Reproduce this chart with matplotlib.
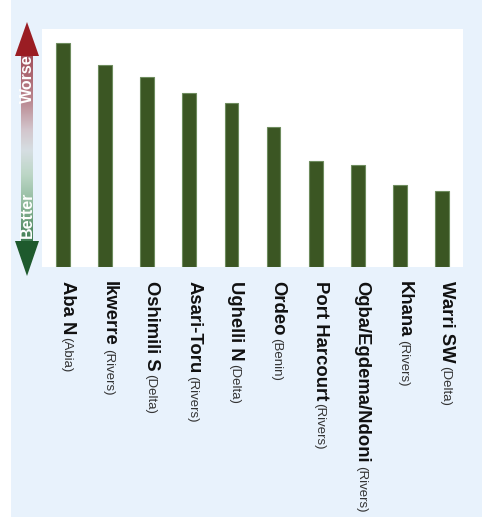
import matplotlib
matplotlib.use("Agg")
import matplotlib.pyplot as plt
import numpy as np
from matplotlib.colors import LinearSegmentedColormap
from matplotlib.patches import Polygon, Rectangle

# ---- data ----
districts = ["Aba N", "Ikwerre", "Oshimili S", "Asari-Toru", "Ughelli N",
             "Ordeo", "Port Harcourt", "Ogba/Egdema/Ndoni", "Khana", "Warri SW"]
states = ["Abia", "Rivers", "Delta", "Rivers", "Delta",
          "Benin", "Rivers", "Rivers", "Rivers", "Delta"]
values = [100, 90.3, 84.8, 77.8, 73.3, 62.6, 47.4, 45.6, 36.7, 34.0]

W, H = 482, 517
fig = plt.figure(figsize=(W / 100, H / 100), dpi=100)
fig.patch.set_facecolor("white")
fig.patches.append(Rectangle((11 / W, 0), 1 - 11 / W, 1, transform=fig.transFigure,
                             facecolor="#e8f2fc", edgecolor="none", zorder=0))

# main axes
ax = fig.add_axes([42 / W, (H - 267) / H, 421 / W, 238 / H], zorder=2)
ax.set_facecolor("white")
x = np.arange(len(values))
ax.bar(x, values, width=0.33, color="#3b5623", edgecolor="#6e8c5e", linewidth=0.8)
ax.set_xlim(-0.5, len(values) - 0.5)
ax.set_ylim(0, 106.4)
for s in ax.spines.values():
    s.set_visible(False)
ax.set_xticks([])
ax.set_yticks([])

trans = ax.get_xaxis_transform()
ylab = (267 - 281) / 238
for i, (d, st) in enumerate(zip(districts, states)):
    t1 = ax.text(i, ylab, d, transform=trans, rotation=-90, rotation_mode="anchor",
                 ha="left", va="baseline", fontsize=13.3, fontweight="bold",
                 family=["Liberation Sans", "DejaVu Sans"], color="#111111", clip_on=False)
    ax.annotate("(" + st + ")", xy=(i, 0), xycoords=("data", t1),
                xytext=(0, -3), textcoords="offset pixels",
                rotation=-90, rotation_mode="anchor", ha="left", va="baseline",
                fontsize=9.5, family=["Liberation Sans", "DejaVu Sans"],
                color="#333333", annotation_clip=False)

# decoration axes (pixel coordinates)
dax = fig.add_axes([0, 0, 1, 1], zorder=1)
dax.axis("off")
dax.patch.set_alpha(0)

cmap = LinearSegmentedColormap.from_list("wb", [
    (0.0, "#a24f5b"), (0.24, "#b9868f"), (0.40, "#d3c6cd"), (0.51, "#d6dee2"),
    (0.64, "#bcd6c6"), (0.80, "#8fb99c"), (1.0, "#3d7a4f")])
grad = np.linspace(0, 1, 256).reshape(-1, 1)
dax.imshow(grad, cmap=cmap, aspect="auto", extent=(21, 33, 242, 55), origin="upper",
           interpolation="bilinear", zorder=1)
dax.add_patch(Polygon([(15, 56), (39, 56), (27, 22)], closed=True,
                      facecolor="#9a1d23", edgecolor="none", zorder=2))
dax.add_patch(Polygon([(15, 241), (39, 241), (27, 276)], closed=True,
                      facecolor="#1e5a2d", edgecolor="none", zorder=2))
dax.set_xlim(0, W)
dax.set_ylim(H, 0)
dax.text(27, 79, "Worse", rotation=90, ha="center", va="center", color="white",
         fontsize=11.5, fontweight="bold", family=["Liberation Sans", "DejaVu Sans"], zorder=3)
dax.text(27, 215, "Better", rotation=90, ha="center", va="center", color="white",
         fontsize=11.5, fontweight="bold", family=["Liberation Sans", "DejaVu Sans"], zorder=3)

fig.savefig("out.png", dpi=100, facecolor=fig.get_facecolor())
